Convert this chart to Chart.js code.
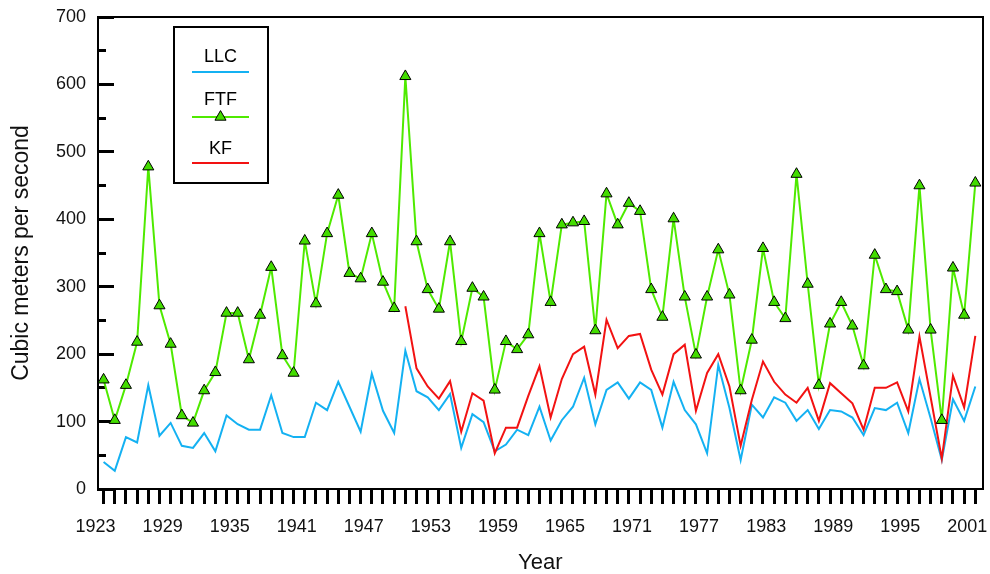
<!DOCTYPE html>
<html>
<head>
<meta charset="utf-8">
<script src="https://cdn.jsdelivr.net/npm/chart.js@4.4.1/dist/chart.umd.min.js"></script>
<style>
  html, body { margin: 0; padding: 0; background: #ffffff; }
  #wrap { width: 990px; height: 574px; }
</style>
</head>
<body>
<div id="wrap"><canvas id="flowChart" width="990" height="574"></canvas></div>
<script>
// Water years on the x axis
const years = [
  1923, 1924, 1925, 1926, 1927, 1928, 1929, 1930, 1931, 1932,
  1933, 1934, 1935, 1936, 1937, 1938, 1939, 1940, 1941, 1942,
  1943, 1944, 1945, 1946, 1947, 1948, 1949, 1950, 1951, 1952,
  1953, 1954, 1955, 1956, 1957, 1958, 1959, 1960, 1961, 1962,
  1963, 1964, 1965, 1966, 1967, 1968, 1969, 1970, 1971, 1972,
  1973, 1974, 1975, 1976, 1977, 1978, 1979, 1980, 1981, 1982,
  1983, 1984, 1985, 1986, 1987, 1988, 1989, 1990, 1991, 1992,
  1993, 1994, 1995, 1996, 1997, 1998, 1999, 2000, 2001
];

// Years that carry a printed label
const yearLabels = ['1923', '1929', '1935', '1941', '1947', '1953', '1959',
                    '1965', '1971', '1977', '1983', '1989', '1995', '2001'];

// Flow values, cubic meters per second
const llc = [
  40, 27, 77, 69, 154, 79, 98, 64, 61, 83,
  56, 109, 96, 88, 88, 139, 83, 77, 77, 128,
  117, 159, 122, 85, 171, 116, 83, 205, 145, 136,
  117, 141, 61, 111, 99, 56, 66, 88, 80, 122,
  72, 102, 122, 165, 96, 147, 158, 134, 158, 147,
  91, 159, 117, 96, 53, 184, 120, 43, 125, 106,
  136, 128, 101, 117, 89, 117, 115, 106, 80, 120,
  117, 128, 83, 163, 105, 43, 133, 101, 152
];

const ftf = [
  162, 102, 154, 218, 478, 272, 215, 109, 98, 146,
  173, 261, 261, 192, 258, 329, 198, 172, 368, 275,
  379, 436, 320, 312, 379, 307, 268, 612, 367, 296,
  267, 367, 219, 298, 285, 147, 219, 207, 229, 379,
  277, 392, 395, 397, 235, 438, 392, 424, 412, 296,
  255, 401, 285, 199, 285, 355, 288, 146, 221, 357,
  277, 253, 467, 304, 154, 245, 277, 242, 183, 347,
  296, 293, 236, 450, 236, 102, 328, 258, 454
];

// KF record begins in 1950
const kf = [
  null, null, null, null, null, null, null, null, null, null,
  null, null, null, null, null, null, null, null, null, null,
  null, null, null, null, null, null, null, 271, 179, 152,
  134, 160, 85, 142, 131, 53, 91, 91, 138, 182,
  106, 163, 200, 211, 140, 251, 209, 227, 230, 177,
  140, 200, 214, 116, 172, 200, 152, 64, 132, 189,
  159, 140, 128, 150, 101, 157, 142, 127, 88, 150,
  150, 158, 115, 226, 136, 45, 168, 121, 227
];

const seriesNames = ['LLC', 'FTF', 'KF'];
const seriesColors = ['#14B1F2', '#4FEA00', '#F21212'];

const FONT = '"Liberation Sans", Arial, Helvetica, sans-serif';
const xMin = 1922.5, xMax = 2001.65;

// Fixed axis band sizes so the plot frame lands where it should
const fixWidth = (w) => (s) => {
  s.width = w; s.paddingTop = 0; s.paddingBottom = 0; s.paddingLeft = 0; s.paddingRight = 0;
};
const fixHeight = (h) => (s) => {
  s.height = h; s.paddingTop = 0; s.paddingBottom = 0; s.paddingLeft = 0; s.paddingRight = 0;
};

// Boxed legend: name above its line sample, as in the printed figure
const boxLegend = {
  id: 'boxLegend',
  afterDraw(chart) {
    const { ctx, chartArea } = chart;
    const bx = chartArea.left + 76, by = chartArea.top + 10, bw = 94, bh = 156;
    const textDy = [30, 73, 122];
    const lineDy = [45, 90, 136];
    ctx.save();
    ctx.fillStyle = '#ffffff';
    ctx.fillRect(bx, by, bw, bh);
    ctx.lineWidth = 2;
    ctx.strokeStyle = '#000000';
    ctx.strokeRect(bx, by, bw, bh);
    ctx.font = '18px ' + FONT;
    ctx.textAlign = 'center';
    ctx.textBaseline = 'middle';
    chart.data.datasets.forEach((ds, i) => {
      const cx = bx + 46.5;
      const ly = by + lineDy[i];
      ctx.fillStyle = '#000000';
      ctx.fillText(ds.label, cx, by + textDy[i]);
      ctx.strokeStyle = ds.borderColor;
      ctx.lineWidth = ds.borderWidth;
      ctx.beginPath();
      ctx.moveTo(bx + 18, ly);
      ctx.lineTo(bx + 75, ly);
      ctx.stroke();
      if (ds.pointRadius > 0) {
        ctx.fillStyle = ds.pointBackgroundColor;
        ctx.strokeStyle = ds.pointBorderColor;
        ctx.lineWidth = ds.pointBorderWidth;
        Chart.helpers.drawPoint(ctx, {
          pointStyle: ds.pointStyle, radius: ds.pointRadius,
          borderWidth: ds.pointBorderWidth, rotation: 0
        }, cx, ly);
      }
    });
    ctx.restore();
  }
};

const tickFont = { family: FONT, size: 18 };
const titleFont = { family: FONT, size: 22, lineHeight: 1 };

new Chart(document.getElementById('flowChart'), {
  type: 'line',
  data: {
    labels: years,
    datasets: [
      {
        label: seriesNames[0], data: llc,
        borderColor: seriesColors[0], backgroundColor: seriesColors[0],
        borderWidth: 2, pointRadius: 0, tension: 0, order: 3
      },
      {
        label: seriesNames[1], data: ftf,
        borderColor: seriesColors[1], backgroundColor: seriesColors[1],
        borderWidth: 2, tension: 0, order: 1,
        pointStyle: 'triangle', pointRadius: 6.4, pointHoverRadius: 6.4,
        pointBackgroundColor: '#43DC00', pointBorderColor: '#000000', pointBorderWidth: 1
      },
      {
        label: seriesNames[2], data: kf,
        borderColor: seriesColors[2], backgroundColor: seriesColors[2],
        borderWidth: 2, pointRadius: 0, tension: 0, order: 2, spanGaps: false
      }
    ]
  },
  options: {
    responsive: false,
    animation: false,
    devicePixelRatio: 1,
    layout: { padding: { left: 0, right: 5, top: 17, bottom: 0 } },
    plugins: { legend: { display: false }, tooltip: { enabled: false } },
    scales: {
      x: {
        type: 'linear', position: 'bottom', min: xMin, max: xMax,
        afterBuildTicks: (s) => { s.ticks = years.map(v => ({ value: v })); },
        afterFit: fixHeight(85),
        ticks: {
          autoSkip: false, maxRotation: 0, minRotation: 0,
          font: tickFont, color: '#111111', padding: 12.2, labelOffset: -8,
          callback: (v) => yearLabels.includes(String(v)) ? String(v) : ''
        },
        grid: {
          display: true, drawOnChartArea: false, drawTicks: true,
          tickLength: 15, tickWidth: 3, tickColor: '#000000'
        },
        border: { display: true, width: 2, color: '#000000' },
        title: {
          display: true, text: 'Year', font: titleFont, color: '#111111',
          padding: { top: 14.2, bottom: 0 }
        }
      },
      xTop: {
        type: 'linear', axis: 'x', position: 'top', min: xMin, max: xMax,
        afterFit: fixHeight(0),
        ticks: { display: false },
        grid: { display: false, drawTicks: false },
        border: { display: true, width: 2, color: '#000000' }
      },
      y: {
        type: 'linear', position: 'left', min: 0, max: 700,
        afterFit: fixWidth(98),
        ticks: { stepSize: 100, font: tickFont, color: '#111111', padding: 28 },
        grid: {
          display: true, drawOnChartArea: false, drawTicks: true,
          tickLength: -16, tickWidth: 3, tickColor: '#000000'
        },
        border: { display: true, width: 2, color: '#000000' },
        title: {
          display: true, text: 'Cubic meters per second',
          font: { family: FONT, size: 23, lineHeight: 1 }, color: '#111111',
          padding: { top: 10.5, bottom: 25 }
        }
      },
      yMinor: {
        type: 'linear', axis: 'y', position: { x: xMin }, min: 0, max: 700,
        afterFit: fixWidth(0),
        ticks: { display: false, stepSize: 50 },
        grid: {
          display: true, drawOnChartArea: false, drawTicks: true,
          tickLength: -8, tickWidth: 3, tickColor: '#000000'
        },
        border: { display: false }
      },
      yRight: {
        type: 'linear', axis: 'y', position: 'right', min: 0, max: 700,
        afterFit: fixWidth(0),
        ticks: { display: false },
        grid: { display: false, drawTicks: false },
        border: { display: true, width: 2, color: '#000000' }
      }
    }
  },
  plugins: [boxLegend]
});
</script>
</body>
</html>
